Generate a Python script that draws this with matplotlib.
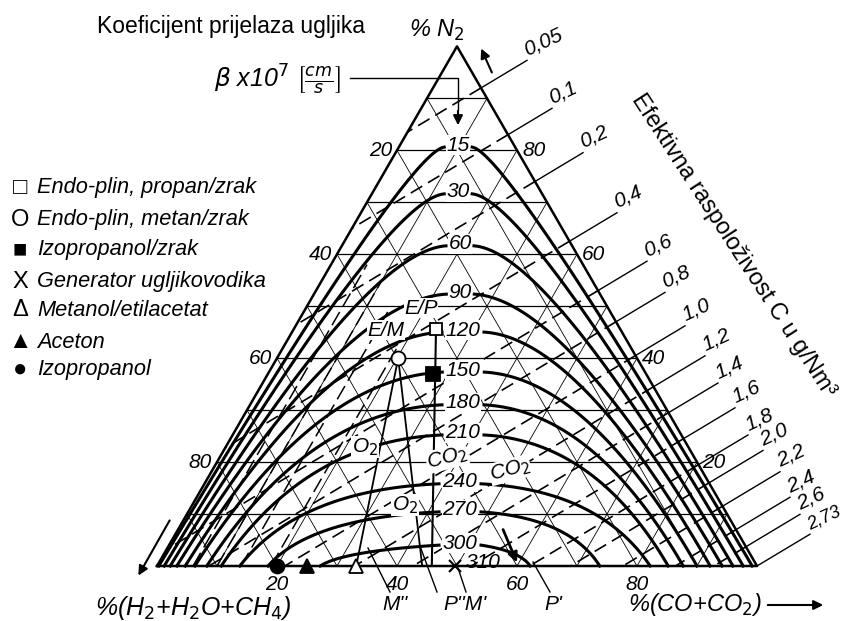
import numpy as np
import matplotlib.pyplot as plt

plt.rcParams['font.family'] = ['Liberation Sans', 'DejaVu Sans']

# ---- values (percent) ----
grid_pct = [10, 20, 30, 40, 50, 60, 70, 80, 90]
tick_pct = [20, 40, 60, 80]

# beta curves: top point (CO+CO2 %, N2 %) and where the two legs meet the base
beta_labels = ['15', '30', '60', '90', '120', '150', '180', '210', '240', '270', '300']
beta_top_co = [9.7, 14.2, 19.5, 24.2, 28.3, 32.2, 35.3, 38.2, 42.4, 45.1, 48.3]
beta_top_n2 = [81, 72, 62, 52.7, 45.4, 37.7, 31.4, 25.6, 16.2, 10.8, 4.4]
beta_left_end = [0.3, 1.2, 2.2, 3.3, 4.7, 6.3, 8.3, 10.7, 13.8, 18.5, 27.2]
beta_right_end = [99.2, 97.7, 96.0, 94.2, 92.2, 90.0, 87.7, 85.2, 82.2, 73.8, 62.2]

# effective C availability lines: N2 % where each crosses the right side
avail_labels = ['0,05', '0,1', '0,2', '0,4', '0,6', '0,8', '1,0', '1,2', '1,4',
                '1,6', '1,8', '2,0', '2,2', '2,4', '2,6', '2,73']
avail_edge_n2 = [92, 83, 74, 62.5, 53, 47, 40.5, 34.5, 29.5, 24.5, 19.5, 16,
                 11.5, 7, 3.7, 0]

# O2 lines in the lower left
o2_co = [6, 10, 14, 19]
o2_top_n2 = [58, 55, 50, 42]

# gas points
pt_names = ['Endo-plin, propan/zrak', 'Endo-plin, metan/zrak', 'Izopropanol/zrak',
            'Generator ugljikovodika', 'Metanol/etilacetat', 'Aceton', 'Izopropanol']
pt_symbols = ['□', 'O', '■', 'X', 'Δ', '▲', '●']
pt_co = [23.7, 20.2, 27.5, 49.7, 33.2, 25.0, 20.0]
pt_n2 = [45.6, 40.0, 37.0, 0, 0, 0, 0]

# ---- ternary -> figure pixels ----
X0, Y0, S = 157.0, 566.0, 6.0
R3 = np.sqrt(3) / 2


def tp(co, n2):
    co = np.asarray(co, float)
    n2 = np.asarray(n2, float)
    return X0 + S * (co + n2 / 2), Y0 - S * R3 * n2


def bezier(p0, p1, p2, n=80):
    t = np.linspace(0, 1, n)[:, None]
    return (1 - t) ** 2 * p0 + 2 * (1 - t) * t * p1 + t ** 2 * p2


fig = plt.figure(figsize=(8.46, 6.21), dpi=100)
ax = fig.add_axes([0, 0, 1, 1])
ax.set_xlim(0, 846)
ax.set_ylim(621, 0)
ax.axis('off')

lab = dict(style='italic', fontsize=15, color='k')
wb = dict(facecolor='white', edgecolor='none', pad=0.3)

# grid
for k in grid_pct:
    ax.plot(*tp([0, 100 - k], [k, k]), color='k', lw=0.9)
    ax.plot(*tp([k, k], [0, 100 - k]), color='k', lw=0.6)
    ax.plot(*tp([100 - k, 0], [0, 100 - k]), color='k', lw=0.6)
ax.plot(*tp([0, 100, 0, 0], [0, 0, 100, 0]), color='k', lw=1.8)

# availability lines with leaders
lead_x = [527, 552, 583, 617, 647, 665, 685, 705, 718, 735, 748, 763, 780, 790, 800, 810]
d = np.array([-1.0, 0.6])
d /= np.linalg.norm(d)
for txt, n2r, lx in zip(avail_labels, avail_edge_n2, lead_x):
    R = np.array(tp(100 - n2r, n2r))
    start = np.array([lx, R[1] - (lx - R[0]) * 0.6])
    ax.plot([start[0], R[0]], [start[1], R[1]], color='k', lw=1.0)
    fs = 15 if txt != '2,73' else 13
    ax.text(start[0] + 2, start[1] - 1, txt, rotation=25, rotation_mode='anchor',
            ha='left', va='bottom', style='italic', fontsize=fs)
    s_b = (Y0 - R[1]) / d[1]
    s_l = (X0 + (Y0 - R[1]) / np.sqrt(3) - R[0]) / (d[0] + d[1] / np.sqrt(3))
    s = min(s_b, s_l)
    if s > 1:
        E = R + s * d
        ax.plot([R[0], E[0]], [R[1], E[1]], color='k', lw=1.2, ls=(0, (8, 4)))

# O2 lines
for c0, top in zip(o2_co, o2_top_n2):
    ax.plot(*tp([c0, c0], [0, top]), color='k', lw=1.1, ls=(0, (10, 4)))

# beta arches
apex = np.array(tp(0, 100))
for i, txt in enumerate(beta_labels):
    top = np.array(tp(beta_top_co[i], beta_top_n2[i]))
    gap = 14 if len(txt) == 2 else 21
    for side, end in [(1, beta_right_end[i]), (-1, beta_left_end[i])]:
        p0 = top + np.array([side * gap, 2])
        p2 = np.array(tp(end, 0))
        frac = (p0[1] - apex[1]) / (p2[1] - apex[1])
        ix = apex[0] + frac * (p2[0] - apex[0])
        p1 = np.array([p0[0] + 0.85 * (ix - p0[0]), p0[1] + 6])
        c = bezier(p0, p1, p2)
        ax.plot(c[:, 0], c[:, 1], color='k', lw=2.2)
    ax.text(top[0], top[1], txt, ha='center', va='center', bbox=wb, zorder=5, **lab)
ax.plot(*tp(pt_co[3], 0), marker='x', color='k', ms=8, mew=1.5)
ax.text(466, 562, '310', ha='left', va='center', **lab)

# process lines between points
ax.plot(*tp([pt_co[0], 45.8], [pt_n2[0], 0]), color='k', lw=1.5)
ax.plot(*tp([pt_co[1], pt_co[4]], [pt_n2[1], 0]), color='k', lw=1.3)
ax.plot(*tp([pt_co[1], 44.2], [pt_n2[1], 0]), color='k', lw=1.3)

# markers
mk = dict(color='k', mec='k', mew=1.3, ls='none', zorder=6)
ax.plot(*tp(pt_co[0], pt_n2[0]), marker='s', mfc='white', ms=9, **mk)
ax.plot(*tp(pt_co[1], pt_n2[1]), marker='o', mfc='white', ms=10, **mk)
ax.plot(*tp(pt_co[2], pt_n2[2]), marker='s', mfc='k', ms=10, **mk)
ax.plot(*tp(pt_co[4], 0), marker='^', mfc='white', ms=10, **mk)
ax.plot(*tp(pt_co[5], 0), marker='^', mfc='k', ms=10, **mk)
ax.plot(*tp(pt_co[6], 0), marker='o', mfc='k', ms=10, **mk)

# axis tick labels
for v in tick_pct:
    x, y = tp(0, 100 - v)
    ax.text(x - 5, y, str(v), ha='right', va='center', **lab)
    x, y = tp(100 - v, v)
    ax.text(x + 5, y, str(v), ha='left', va='center', **lab)
    x, y = tp(v, 0)
    ax.text(x, y + 18, str(v), ha='center', va='center', **lab)

# small labels inside
for x, y, t, r in [(421, 308, 'E/P', 0), (386, 330, 'E/M', 0),
                   (365, 447, 'O$_2$', 0), (405, 505, 'O$_2$', 0),
                   (447, 458, 'CO$_2$', 15), (510, 470, 'CO$_2$', 15)]:
    ax.text(x, y, t, ha='center', va='center', rotation=r, bbox=wb, zorder=5, **lab)
ax.text(395, 604, "M''", ha='center', va='center', **lab)
ax.text(465, 604, "P''M'", ha='center', va='center', **lab)
ax.text(553, 605, "P'", ha='center', va='center', **lab)
for a, b in [((368, 548), (390, 592)), ((420, 546), (437, 592)),
             ((458, 568), (466, 592)), ((533, 562), (550, 592))]:
    ax.plot([a[0], b[0]], [a[1], b[1]], color='k', lw=1.0)
ax.annotate('', xy=(518, 565), xytext=(502, 527),
            arrowprops=dict(arrowstyle='-|>', lw=2, color='k', mutation_scale=14))

# arrows for the axes
ar = dict(arrowstyle='-|>', lw=1.5, color='k', mutation_scale=14)
ax.annotate('', xy=(480, 46), xytext=(493, 75), arrowprops=ar)
ax.annotate('', xy=(137, 578), xytext=(171, 518), arrowprops=ar)
ax.annotate('', xy=(826, 605), xytext=(765, 605), arrowprops=ar)
ax.plot([350, 458, 458], [78, 78, 110], color='k', lw=1.0)
ax.annotate('', xy=(458, 128), xytext=(458, 108), arrowprops=ar)

# titles and axis names
ax.text(97, 27, 'Koeficijent prijelaza ugljika', ha='left', va='center', fontsize=16.5)
ax.text(437, 30, '% N$_2$', ha='center', va='center', style='italic', fontsize=17)
ax.text(278, 80, r'$\beta$ x10$^7$ $\left[\frac{cm}{s}\right]$', ha='center',
        va='center', style='italic', fontsize=18)
ax.text(193, 608, '%(H$_2$+H$_2$O+CH$_4$)', ha='center', va='center',
        style='italic', fontsize=18)
ax.text(695, 605, '%(CO+CO$_2$)', ha='center', va='center', style='italic', fontsize=17)
ax.text(733, 246, 'Efektivna raspoloživost C u g/Nm³', rotation=-57,
        ha='center', va='center', fontsize=17)

# legend
leg_y = [188, 220, 250, 282, 310, 342, 370]
for sym, name, y in zip(pt_symbols, pt_names, leg_y):
    ax.text(20, y, sym, ha='center', va='center', fontsize=17)
    ax.text(37, y, name, ha='left', va='center', style='italic', fontsize=15.7)

fig.savefig('out.png', dpi=100, facecolor='white')
